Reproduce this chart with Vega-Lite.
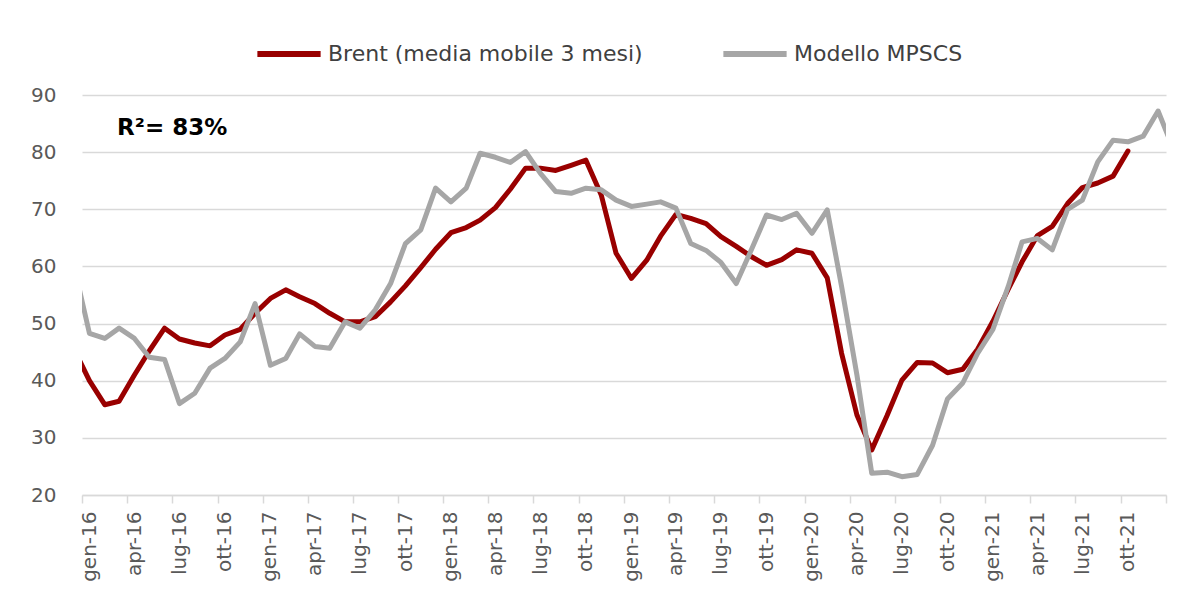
{
  "$schema": "https://vega.github.io/schema/vega-lite/v6.json",
  "autosize": {"type": "none"},
  "width": 1084,
  "height": 400,
  "padding": {"left": 82, "top": 95, "right": 20, "bottom": 98},
  "background": "white",
  "config": {
    "view": {"stroke": null},
    "font": "DejaVu Sans"
  },
  "layer": [
    {
      "data": {
        "values": [
          {"mese": "2015-12-16", "brent": 45.5, "mpscs": 60.0},
          {"mese": "2016-01-16", "brent": 40.0, "mpscs": 48.3},
          {"mese": "2016-02-16", "brent": 35.8, "mpscs": 47.4},
          {"mese": "2016-03-16", "brent": 36.4, "mpscs": 49.2},
          {"mese": "2016-04-16", "brent": 41.0, "mpscs": 47.4},
          {"mese": "2016-05-16", "brent": 45.2, "mpscs": 44.1},
          {"mese": "2016-06-16", "brent": 49.2, "mpscs": 43.7},
          {"mese": "2016-07-16", "brent": 47.3, "mpscs": 36.0},
          {"mese": "2016-08-16", "brent": 46.6, "mpscs": 37.8},
          {"mese": "2016-09-16", "brent": 46.1, "mpscs": 42.2},
          {"mese": "2016-10-16", "brent": 48.0, "mpscs": 43.9},
          {"mese": "2016-11-16", "brent": 49.0, "mpscs": 46.8},
          {"mese": "2016-12-16", "brent": 51.8, "mpscs": 53.5},
          {"mese": "2017-01-16", "brent": 54.4, "mpscs": 42.7},
          {"mese": "2017-02-16", "brent": 55.9, "mpscs": 43.9},
          {"mese": "2017-03-16", "brent": 54.7, "mpscs": 48.2},
          {"mese": "2017-04-16", "brent": 53.5, "mpscs": 46.0},
          {"mese": "2017-05-16", "brent": 51.8, "mpscs": 45.7},
          {"mese": "2017-06-16", "brent": 50.3, "mpscs": 50.3},
          {"mese": "2017-07-16", "brent": 50.3, "mpscs": 49.2},
          {"mese": "2017-08-16", "brent": 51.2, "mpscs": 52.4},
          {"mese": "2017-09-16", "brent": 53.8, "mpscs": 57.0},
          {"mese": "2017-10-16", "brent": 56.6, "mpscs": 64.0},
          {"mese": "2017-11-16", "brent": 59.8, "mpscs": 66.4},
          {"mese": "2017-12-16", "brent": 63.0, "mpscs": 73.7},
          {"mese": "2018-01-16", "brent": 65.9, "mpscs": 71.3},
          {"mese": "2018-02-16", "brent": 66.8, "mpscs": 73.7},
          {"mese": "2018-03-16", "brent": 68.1, "mpscs": 79.8},
          {"mese": "2018-04-16", "brent": 70.3, "mpscs": 79.1},
          {"mese": "2018-05-16", "brent": 73.5, "mpscs": 78.2},
          {"mese": "2018-06-16", "brent": 77.2, "mpscs": 80.1},
          {"mese": "2018-07-16", "brent": 77.2, "mpscs": 76.3},
          {"mese": "2018-08-16", "brent": 76.8, "mpscs": 73.1},
          {"mese": "2018-09-16", "brent": 77.7, "mpscs": 72.8},
          {"mese": "2018-10-16", "brent": 78.6, "mpscs": 73.7},
          {"mese": "2018-11-16", "brent": 72.5, "mpscs": 73.4},
          {"mese": "2018-12-16", "brent": 62.3, "mpscs": 71.6},
          {"mese": "2019-01-16", "brent": 57.9, "mpscs": 70.5},
          {"mese": "2019-02-16", "brent": 61.1, "mpscs": 70.9},
          {"mese": "2019-03-16", "brent": 65.3, "mpscs": 71.3},
          {"mese": "2019-04-16", "brent": 69.1, "mpscs": 70.2},
          {"mese": "2019-05-16", "brent": 68.4, "mpscs": 64.0},
          {"mese": "2019-06-16", "brent": 67.5, "mpscs": 62.8},
          {"mese": "2019-07-16", "brent": 65.2, "mpscs": 60.7},
          {"mese": "2019-08-16", "brent": 63.5, "mpscs": 57.0},
          {"mese": "2019-09-16", "brent": 61.7, "mpscs": 63.0},
          {"mese": "2019-10-16", "brent": 60.2, "mpscs": 69.0},
          {"mese": "2019-11-16", "brent": 61.2, "mpscs": 68.2},
          {"mese": "2019-12-16", "brent": 62.9, "mpscs": 69.3},
          {"mese": "2020-01-16", "brent": 62.3, "mpscs": 65.8},
          {"mese": "2020-02-16", "brent": 58.0, "mpscs": 69.9},
          {"mese": "2020-03-16", "brent": 44.8, "mpscs": 56.5},
          {"mese": "2020-04-16", "brent": 34.0, "mpscs": 41.0},
          {"mese": "2020-05-16", "brent": 27.9, "mpscs": 23.8},
          {"mese": "2020-06-16", "brent": 33.9, "mpscs": 24.0},
          {"mese": "2020-07-16", "brent": 40.1, "mpscs": 23.2},
          {"mese": "2020-08-16", "brent": 43.2, "mpscs": 23.6},
          {"mese": "2020-09-16", "brent": 43.1, "mpscs": 28.7},
          {"mese": "2020-10-16", "brent": 41.4, "mpscs": 36.8},
          {"mese": "2020-11-16", "brent": 42.0, "mpscs": 39.6},
          {"mese": "2020-12-16", "brent": 45.5, "mpscs": 44.8},
          {"mese": "2021-01-16", "brent": 50.4, "mpscs": 49.0},
          {"mese": "2021-02-16", "brent": 56.0, "mpscs": 56.5},
          {"mese": "2021-03-16", "brent": 60.8, "mpscs": 64.3},
          {"mese": "2021-04-16", "brent": 65.4, "mpscs": 64.9},
          {"mese": "2021-05-16", "brent": 67.0, "mpscs": 62.9},
          {"mese": "2021-06-16", "brent": 71.0, "mpscs": 70.0},
          {"mese": "2021-07-16", "brent": 73.8, "mpscs": 71.6},
          {"mese": "2021-08-16", "brent": 74.6, "mpscs": 78.3},
          {"mese": "2021-09-16", "brent": 75.8, "mpscs": 82.1},
          {"mese": "2021-10-16", "brent": 80.2, "mpscs": 81.8},
          {"mese": "2021-11-16", "brent": null, "mpscs": 82.8},
          {"mese": "2021-12-16", "brent": null, "mpscs": 87.2},
          {"mese": "2022-01-16", "brent": null, "mpscs": 80.5}
        ]
      },
      "transform": [
        {"fold": ["brent", "mpscs"], "as": ["serie", "valore"]},
        {"filter": "isValid(datum.valore)"}
      ],
      "mark": {"type": "line", "clip": true, "strokeWidth": 5, "strokeJoin": "round", "strokeCap": "round"},
      "encoding": {
        "x": {
          "field": "mese",
          "type": "temporal",
          "scale": {
            "type": "utc",
            "domain": [
              {"year": 2016, "month": 1, "date": 1, "utc": true},
              {"year": 2022, "month": 1, "date": 1, "utc": true}
            ],
            "nice": false
          },
          "axis": {
            "title": null,
            "grid": false,
            "values": [
              {"year": 2016, "month": 1, "date": 1, "utc": true},
              {"year": 2016, "month": 4, "date": 1, "utc": true},
              {"year": 2016, "month": 7, "date": 1, "utc": true},
              {"year": 2016, "month": 10, "date": 1, "utc": true},
              {"year": 2017, "month": 1, "date": 1, "utc": true},
              {"year": 2017, "month": 4, "date": 1, "utc": true},
              {"year": 2017, "month": 7, "date": 1, "utc": true},
              {"year": 2017, "month": 10, "date": 1, "utc": true},
              {"year": 2018, "month": 1, "date": 1, "utc": true},
              {"year": 2018, "month": 4, "date": 1, "utc": true},
              {"year": 2018, "month": 7, "date": 1, "utc": true},
              {"year": 2018, "month": 10, "date": 1, "utc": true},
              {"year": 2019, "month": 1, "date": 1, "utc": true},
              {"year": 2019, "month": 4, "date": 1, "utc": true},
              {"year": 2019, "month": 7, "date": 1, "utc": true},
              {"year": 2019, "month": 10, "date": 1, "utc": true},
              {"year": 2020, "month": 1, "date": 1, "utc": true},
              {"year": 2020, "month": 4, "date": 1, "utc": true},
              {"year": 2020, "month": 7, "date": 1, "utc": true},
              {"year": 2020, "month": 10, "date": 1, "utc": true},
              {"year": 2021, "month": 1, "date": 1, "utc": true},
              {"year": 2021, "month": 4, "date": 1, "utc": true},
              {"year": 2021, "month": 7, "date": 1, "utc": true},
              {"year": 2021, "month": 10, "date": 1, "utc": true},
              {"year": 2022, "month": 1, "date": 1, "utc": true}
            ],
            "labelExpr": "utcyear(datum.value) >= 2022 ? '' : ['gen','feb','mar','apr','mag','giu','lug','ago','set','ott','nov','dic'][utcmonth(datum.value)] + '-' + utcFormat(datum.value, '%y')",
            "labelAngle": -90,
            "labelAlign": "right",
            "labelBaseline": "middle",
            "labelOffset": 7,
            "labelPadding": 8,
            "labelFontSize": 20,
            "labelColor": "#595959",
            "labelFont": "DejaVu Sans",
            "labelOverlap": false,
            "labelFlush": false,
            "domainColor": "#D9D9D9",
            "domainWidth": 1.5,
            "tickColor": "#D9D9D9",
            "tickWidth": 1.5,
            "tickSize": 8
          }
        },
        "y": {
          "field": "valore",
          "type": "quantitative",
          "scale": {"domain": [20, 90], "nice": false, "zero": false},
          "axis": {
            "title": null,
            "values": [20, 30, 40, 50, 60, 70, 80, 90],
            "domain": false,
            "ticks": false,
            "tickSize": 0,
            "labelPadding": 26,
            "labelFontSize": 20,
            "labelColor": "#595959",
            "labelFont": "DejaVu Sans",
            "gridColor": "#D9D9D9",
            "gridWidth": 1.5
          }
        },
        "color": {
          "field": "serie",
          "type": "nominal",
          "scale": {"domain": ["brent", "mpscs"], "range": ["#990000", "#A6A6A6"]},
          "legend": {
            "title": null,
            "orient": "none",
            "direction": "horizontal",
            "legendX": 172,
            "legendY": -76,
            "symbolType": "stroke",
            "symbolSize": 4000,
            "symbolStrokeWidth": 6,
            "labelFontSize": 22,
            "labelFont": "DejaVu Sans",
            "labelColor": "#404040",
            "labelOffset": 4,
            "columnPadding": 68,
            "labelLimit": 500,
            "padding": 0,
            "labelExpr": "datum.value == 'brent' ? 'Brent (media mobile 3 mesi)' : 'Modello MPSCS'"
          }
        }
      }
    },
    {
      "data": {"values": [{}]},
      "mark": {"type": "text", "align": "left", "baseline": "middle", "fontSize": 23, "fontWeight": "bold", "font": "DejaVu Sans", "color": "#000000"},
      "encoding": {
        "x": {"datum": {"year": 2016, "month": 3, "date": 12, "utc": true}, "type": "temporal"},
        "y": {"datum": 84.3, "type": "quantitative"},
        "text": {"value": "R²= 83%"}
      }
    }
  ]
}
